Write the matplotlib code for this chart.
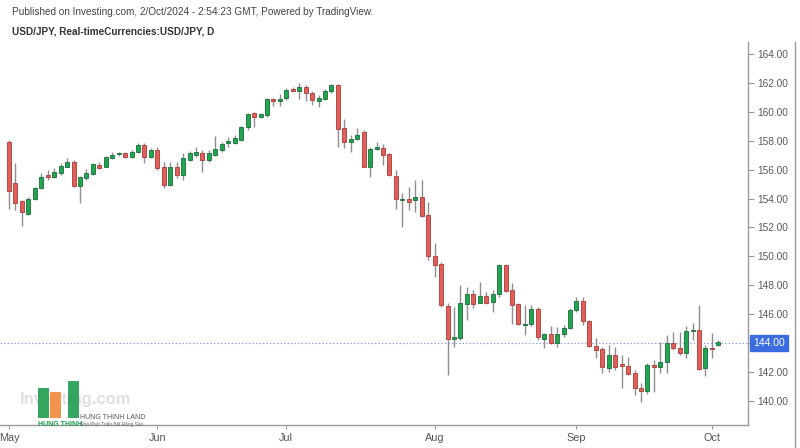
import numpy as np
import pandas as pd
import matplotlib
matplotlib.use("Agg")
import matplotlib.pyplot as plt
from matplotlib.lines import Line2D
from matplotlib.patches import Rectangle

plt.rcParams['font.family'] = ['Liberation Sans', 'DejaVu Sans']

# ---- data (USD/JPY daily, 1 May 2024 - 2 Oct 2024) ----
dates = pd.bdate_range('2024-05-01', '2024-10-02')

opens = [157.93, 155.06, 153.80, 152.92, 153.98, 154.76, 155.60, 155.47, 155.75, 156.21,
         156.55, 154.90, 155.40, 155.70, 156.32, 156.20, 156.78, 157.05, 157.13, 156.90,
         157.20, 157.70, 156.85, 157.36, 156.20, 154.93, 156.15, 155.62, 156.70, 157.00,
         157.12, 156.70, 157.00, 157.35, 157.81, 157.81, 158.05, 158.97, 159.89, 159.66,
         159.78, 160.86, 160.77, 160.93, 161.57, 161.46, 161.74, 161.32, 160.77, 160.86,
         161.46, 161.85, 158.85, 157.93, 158.11, 158.62, 156.20, 157.42, 157.47, 157.08,
         155.55, 153.90, 154.00, 153.90, 154.12, 152.85, 150.02, 149.50, 146.58, 144.26,
         144.33, 146.70, 147.37, 146.79, 147.25, 146.86, 147.39, 149.40, 147.67, 146.68,
         145.26, 145.32, 146.35, 144.28, 144.60, 143.98, 144.60, 145.02, 146.29, 146.93,
         145.55, 143.80, 143.56, 142.24, 143.17, 142.52, 142.43, 141.90, 140.86, 140.70,
         142.47, 142.36, 142.70, 144.02, 143.63, 143.28, 144.80, 144.90, 142.29, 143.63,
         143.86]
highs = [158.05, 156.44, 153.90, 154.10, 154.83, 155.75, 155.97, 156.10, 156.44, 156.78,
         156.67, 155.57, 156.03, 156.49, 156.55, 156.95, 157.24, 157.24, 157.20, 157.36,
         157.82, 157.82, 157.47, 157.55, 156.55, 156.55, 156.55, 157.17, 157.31, 157.54,
         157.35, 157.35, 158.32, 157.93, 158.28, 158.39, 159.01, 159.94, 160.00, 159.94,
         160.93, 160.93, 161.23, 161.62, 161.74, 161.97, 161.85, 161.46, 161.16, 161.55,
         161.92, 161.92, 159.50, 158.39, 158.85, 158.74, 157.58, 157.93, 157.77, 157.17,
         155.97, 154.35, 154.77, 155.28, 155.28, 153.78, 150.90, 149.62, 146.75, 146.50,
         148.00, 147.90, 147.67, 148.25, 147.55, 147.67, 149.47, 149.47, 148.13, 146.75,
         146.63, 146.63, 146.50, 144.67, 145.18, 145.09, 145.25, 146.40, 147.20, 147.20,
         145.60, 144.33, 143.74, 143.86, 143.74, 143.17, 143.05, 142.13, 141.21, 142.59,
         142.82, 144.09, 144.55, 144.78, 144.78, 145.18, 145.36, 146.63, 143.86, 144.67,
         144.20]
lows = [153.30, 153.20, 152.07, 152.87, 153.90, 154.67, 155.28, 155.40, 155.64, 156.16,
        154.83, 153.68, 155.29, 155.64, 156.03, 156.16, 156.72, 156.95, 156.78, 156.78,
        157.13, 156.48, 156.78, 155.97, 154.70, 154.86, 155.39, 155.28, 156.62, 156.85,
        155.85, 156.55, 156.93, 157.24, 157.58, 157.77, 158.00, 158.74, 158.92, 159.54,
        159.66, 160.40, 160.40, 160.81, 161.39, 160.86, 160.77, 160.47, 160.35, 160.81,
        161.32, 157.54, 157.47, 157.24, 158.05, 156.16, 155.50, 157.35, 156.31, 155.55,
        153.30, 152.05, 153.20, 153.08, 152.74, 149.74, 148.60, 146.50, 141.79, 143.70,
        144.20, 145.60, 146.40, 146.75, 146.70, 146.17, 147.20, 147.55, 145.32, 145.25,
        144.56, 145.18, 144.21, 143.63, 143.93, 143.75, 144.44, 144.95, 146.17, 145.25,
        143.75, 142.94, 141.90, 142.01, 142.13, 140.86, 141.78, 140.40, 139.94, 140.47,
        140.63, 141.90, 141.90, 143.51, 143.17, 142.94, 144.20, 142.13, 141.71, 143.00,
        143.79]
closes = [154.55, 153.68, 153.10, 153.98, 154.76, 155.52, 155.50, 155.86, 156.28, 156.55,
          154.90, 155.47, 155.75, 156.37, 156.14, 156.85, 157.00, 157.12, 156.85, 157.25,
          157.70, 156.90, 157.36, 156.10, 154.93, 156.20, 155.62, 156.78, 157.12, 157.24,
          156.70, 157.12, 157.40, 157.77, 157.95, 158.16, 158.97, 159.84, 159.66, 159.84,
          160.86, 160.77, 160.86, 161.50, 161.46, 161.74, 161.32, 160.81, 160.93, 161.46,
          161.85, 158.78, 157.93, 158.09, 158.39, 156.20, 157.42, 157.58, 157.01, 155.62,
          153.94, 153.97, 153.73, 154.12, 152.78, 150.02, 149.40, 146.63, 144.26, 144.39,
          146.75, 147.37, 146.70, 147.25, 146.79, 147.39, 149.40, 147.62, 146.63, 145.32,
          145.32, 146.35, 144.44, 144.60, 143.98, 144.62, 145.02, 146.29, 146.93, 145.55,
          143.80, 143.50, 142.36, 143.17, 142.36, 142.43, 141.83, 140.86, 140.70, 142.47,
          142.36, 142.70, 144.02, 143.63, 143.28, 144.85, 144.85, 142.20, 143.63, 143.60,
          144.09]
y_ticks = [140, 142, 144, 146, 148, 150, 152, 154, 156, 158, 160, 162, 164]
last_price = 144.00

# ---- figure ----
W, H = 800, 448
fig = plt.figure(figsize=(W / 100, H / 100), dpi=100)
fig.patch.set_facecolor('white')
ax = fig.add_axes([0, 23 / H, 748 / W, 383 / H])

o = np.array(opens); h = np.array(highs); l = np.array(lows); c = np.array(closes)
x = np.arange(len(o))
up = c >= o

green_face, green_edge = '#20a650', '#1a6c38'
red_face, red_edge = '#e25e58', '#a63c37'
wick = '#8e8e8e'

ax.vlines(x, l, h, color=wick, linewidth=1.0, zorder=2)
body_h = np.maximum(np.abs(c - o), 0.07)
body_b = np.minimum(o, c)
ax.bar(x[up], body_h[up], bottom=body_b[up], width=0.62,
       color=green_face, edgecolor=green_edge, linewidth=0.6, zorder=3)
ax.bar(x[~up], body_h[~up], bottom=body_b[~up], width=0.62,
       color=red_face, edgecolor=red_edge, linewidth=0.6, zorder=3)

# current price line
ax.axhline(last_price, color='#8ea2ee', linestyle=(0, (1.2, 1.6)), linewidth=0.9, zorder=1)

ax.set_xlim(-1.4, 114.6)
ax.set_ylim(138.33, 164.83)

# axes styling
for s in ['top', 'left']:
    ax.spines[s].set_visible(False)
ax.spines['right'].set_color('#9a9a9a')
ax.spines['bottom'].set_color('#9a9a9a')
ax.spines['right'].set_linewidth(1.0)
ax.spines['bottom'].set_linewidth(1.0)

ax.yaxis.tick_right()
ax.set_yticks(y_ticks)
ax.set_yticklabels(['' if v == last_price else f'{v:.2f}' for v in y_ticks])
ax.tick_params(axis='y', direction='out', length=4, width=0.8, color='#9a9a9a',
               labelsize=7.3, labelcolor='#5a5a5a', pad=3)

# month ticks at first trading day of each month
month_pos, month_lab = [], []
prev = None
for i, d in enumerate(dates):
    if d.month != prev:
        month_pos.append(i)
        month_lab.append(d.strftime('%b'))
        prev = d.month
ax.set_xticks(month_pos)
ax.set_xticklabels(month_lab)
ax.tick_params(axis='x', direction='out', length=3, width=0.8, color='#9a9a9a',
               labelsize=7.8, labelcolor='#555555', pad=3)

# last price label box
ax.text(1.007, last_price, f'{last_price:.2f}', transform=ax.get_yaxis_transform(),
        ha='left', va='center', fontsize=7.5, color='white', zorder=10,
        bbox=dict(boxstyle='square,pad=0.32', facecolor='#3c6de0', edgecolor='#3c6de0'),
        clip_on=False)

# outer right line of price scale
fig.add_artist(Line2D([795 / W, 795 / W], [0, 1 - 42 / H], color='#9a9a9a', linewidth=1.0))

# header texts
fig.text(12 / W, 1 - 12 / H,
         'Published on Investing.com, 2/Oct/2024 - 2:54:23 GMT, Powered by TradingView.',
         fontsize=7.2, color='#444444', va='center', ha='left')
fig.text(12 / W, 1 - 31 / H, 'USD/JPY, Real-timeCurrencies:USD/JPY, D',
         fontsize=7.2, color='#333333', va='center', ha='left', fontweight='bold')

# watermark / logo
fig.text(20 / W, 1 - 399 / H, 'Investing.com', fontsize=12, color='#e0e0e0',
         fontweight='bold', va='center', ha='left', zorder=0)
for (x0, y0, w0, h0, col) in [(38, 388, 11, 30, '#1f9c4f'), (50, 392, 11, 26, '#f08a3a'),
                              (68, 381, 11, 37, '#1f9c4f')]:
    fig.add_artist(Rectangle((x0 / W, 1 - (y0 + h0) / H), w0 / W, h0 / H,
                             facecolor=col, edgecolor='none', alpha=0.9))
fig.text(38 / W, 1 - 424 / H, 'HUNG THINH', fontsize=5.0, color='#1f9c4f',
         fontweight='bold', va='center', ha='left')
fig.text(80 / W, 1 - 417.5 / H, 'HUNG THINH LAND', fontsize=5.0, color='#555555',
         va='center', ha='left')
fig.text(80 / W, 1 - 424.5 / H, 'Nhà Phát Triển Bất Động Sản', fontsize=3.4,
         color='#666666', va='center', ha='left')

fig.savefig('out.png', dpi=100, facecolor='white')
